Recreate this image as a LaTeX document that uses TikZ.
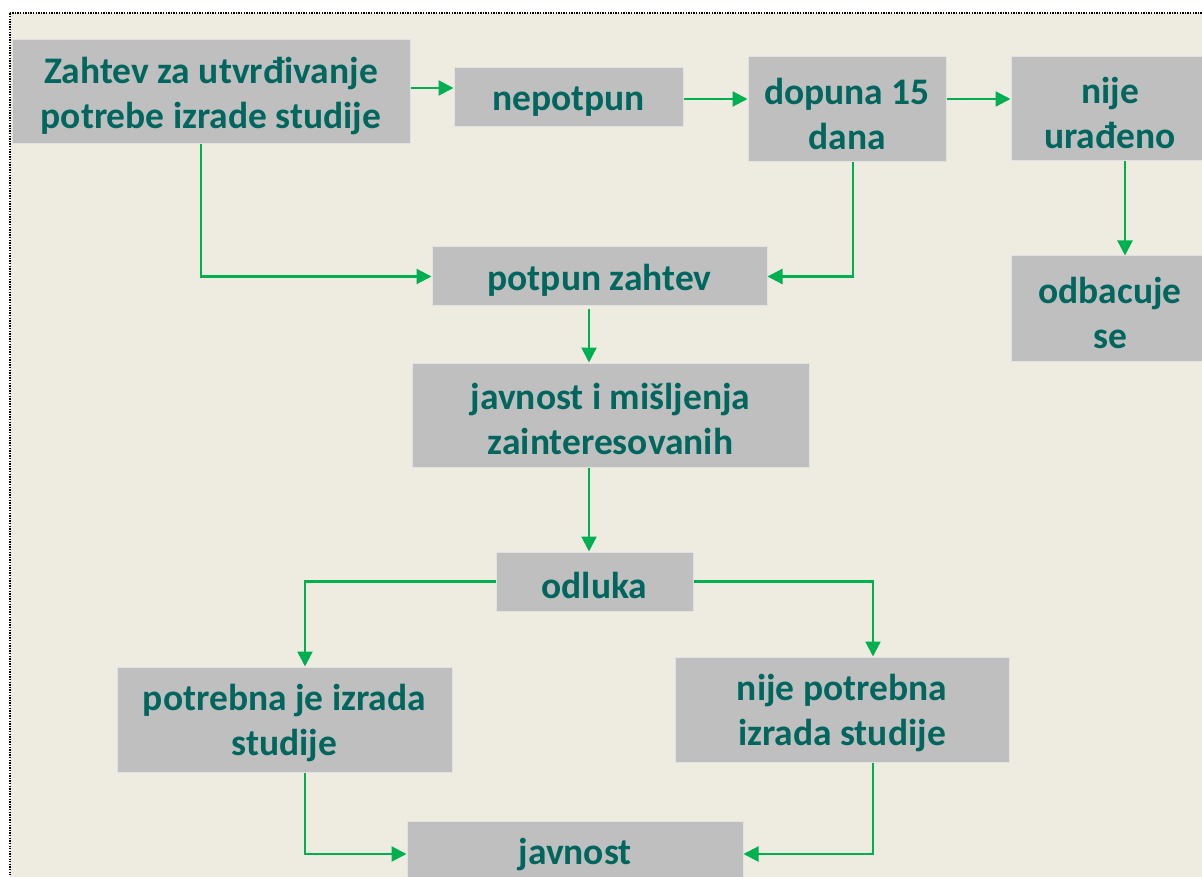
\documentclass[tikz,border=0pt]{standalone}
\usepackage{fontspec}
\setmainfont{Carlito}
\usetikzlibrary{arrows.meta}
\definecolor{bg}{RGB}{238,236,225}
\definecolor{boxgray}{RGB}{191,191,191}
\definecolor{boxedge}{RGB}{226,226,226}
\definecolor{txt}{RGB}{0,102,94}
\definecolor{arr}{RGB}{0,176,80}
% lower a line of box text without changing its measured size
\newcommand\boxline[1]{\raisebox{-4pt}[\height][\depth]{#1}}
\begin{document}
\begin{tikzpicture}[x=1pt,y=-1pt,
  stepbox/.style={fill=boxgray, draw=boxedge, line width=1pt, inner sep=0pt,
    align=center, text=txt, font=\fontsize{37.5}{45}\selectfont\bfseries},
  link/.style={draw=arr, line width=2.2pt, -{Triangle[length=15pt,width=15pt]}}]
  % page and background
  \useasboundingbox (0,0) rectangle (1202,877);
  \clip (0,0) rectangle (1202,877);
  \fill[white] (0,0) rectangle (1202,877);
  \fill[bg] (9.5,13.5) rectangle (1215,890);
  \draw[black, line width=2pt, dash pattern=on 1.3pt off 1.3pt] (9.5,13.5) rectangle (1215,890);

  % boxes
  \node[stepbox, minimum width=398pt, minimum height=104pt] (zahtev) at (211,92)
    {\boxline{Zahtev za utvrđivanje}\\\boxline{potrebe izrade studije}};
  \node[stepbox, minimum width=229pt, minimum height=59pt] (nepotpun) at (568.5,97.5)
    {\boxline{nepotpun}};
  \node[stepbox, minimum width=198pt, minimum height=105pt] (dopuna) at (847,109.5)
    {\boxline{dopuna 15}\\\boxline{dana}};
  \node[stepbox, minimum width=198pt, minimum height=104pt] (nije) at (1110,109)
    {\boxline{nije}\\\boxline{urađeno}};
  \node[stepbox, minimum width=198pt, minimum height=105pt] (odbacuje) at (1110,308.5)
    {\boxline{odbacuje}\\\boxline{se}};
  \node[stepbox, minimum width=335pt, minimum height=59pt] (potpun) at (599.5,276.5)
    {\boxline{potpun zahtev}};
  \node[stepbox, minimum width=397pt, minimum height=104pt] (misljenja) at (610.5,415)
    {\boxline{javnost i mišljenja}\\\boxline{zainteresovanih}};
  \node[stepbox, minimum width=197pt, minimum height=59pt] (odluka) at (594.5,581.5)
    {\boxline{odluka}};
  \node[stepbox, minimum width=335pt, minimum height=105pt] (potrebna) at (284.5,719.5)
    {\boxline{potrebna je izrada}\\\boxline{studije}};
  \node[stepbox, minimum width=334pt, minimum height=105pt] (nijepotrebna) at (842,709.5)
    {\boxline{nije potrebna}\\\boxline{izrada studije}};
  \node[stepbox, minimum width=336pt, minimum height=59pt] (javnost) at (575,850.5)
    {\boxline{javnost}};

  % connectors
  \draw[link] (zahtev.east |- 0,88) -- (nepotpun.west |- 0,88);
  \draw[link] (nepotpun.east |- 0,99) -- (dopuna.west |- 0,99);
  \draw[link] (dopuna.east |- 0,99) -- (nije.west |- 0,99);
  \draw[link] (nije.south -| 1125,0) -- (odbacuje.north -| 1125,0);
  \draw[link] (zahtev.south -| 201,0) |- (potpun.west);
  \draw[link] (dopuna.south -| 853,0) |- (potpun.east);
  \draw[link, shorten <=3pt] (potpun.south -| 589,0) -- (misljenja.north -| 589,0);
  \draw[link] (misljenja.south -| 589,0) -- (odluka.north -| 589,0);
  \draw[link] (odluka.west) -| (potrebna.north -| 305,0);
  \draw[link] (odluka.east) -| (nijepotrebna.north -| 873,0);
  \draw[link] (potrebna.south -| 305,0) |- (javnost.west |- 0,854);
  \draw[link] (nijepotrebna.south -| 873,0) |- (javnost.east |- 0,854);
\end{tikzpicture}
\end{document}
